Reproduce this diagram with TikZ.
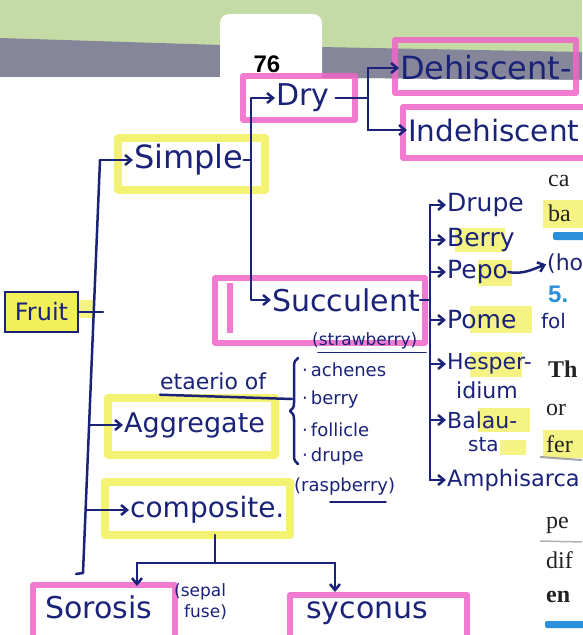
\documentclass[tikz,border=0pt]{standalone}
\usepackage{fontspec}
\setmainfont{DejaVu Sans}
\newfontfamily\printfont{Liberation Serif}
\newfontfamily\numfont{Liberation Sans}
\usetikzlibrary{arrows.meta,decorations.pathreplacing}
\definecolor{pen}{HTML}{1B2378}
\definecolor{pinkhl}{HTML}{F065C8}
\definecolor{yelhl}{HTML}{F2F05A}
\definecolor{greenbg}{HTML}{C4DBA6}
\definecolor{graybd}{HTML}{86869A}
\definecolor{bluebk}{HTML}{2A90DC}
\definecolor{inkblack}{HTML}{222222}
\newcommand\hwsz[1]{\fontsize{#1}{#1}\selectfont}
\begin{document}
\begin{tikzpicture}[x=1pt,y=-1pt,
  penline/.style={draw=pen, line width=2.5pt, line cap=round, line join=round},
  arr/.style={penline, -{Straight Barb[length=6pt,width=10pt]}, shorten >=1pt},
  hw/.style={text=pen, inner sep=0pt, anchor=west},
  prt/.style={text=inkblack, inner sep=0pt, anchor=west, font=\printfont\hwsz{24}},
  hlp/.style={draw=pinkhl, line width=5.5pt, opacity=0.85, line join=round},
  hly/.style={draw=yelhl, line width=8pt, opacity=0.85, line join=round},
  hlfill/.style={fill=yelhl, opacity=0.75}]
\useasboundingbox (0,0) rectangle (582,635);
% ---------- background ----------
\fill[white] (0,0) rectangle (582,635);
\fill[greenbg] (0,0) rectangle (582,80);
\fill[graybd] (0,38) -- (222,45) -- (222,77) -- (0,77) -- cycle;
\fill[graybd] (320,47) -- (582,52) -- (582,80) -- (320,78) -- cycle;
\fill[white] (0,77) -- (222,77) -- (320,78) -- (582,80) -- (582,635) -- (0,635) -- cycle;
\fill[white, rounded corners=9pt] (220,14) rectangle (322,90);
\node[font=\numfont\bfseries\hwsz{24}, text=black, inner sep=0pt] (pg) at (267,64) {76};
% ---------- highlighter marks ----------
\draw[hly] (118,138) rectangle (265,190);
\draw[hly] (108,398) rectangle (275,455);
\draw[hly] (105,482) rectangle (290,535);
\fill[hlfill] (78,300) rectangle (95,318);
\fill[hlfill] (455,228) rectangle (505,252);
\fill[hlfill] (478,260) rectangle (512,286);
\fill[hlfill] (470,306) rectangle (532,333);
\fill[hlfill] (470,352) rectangle (522,377);
\fill[hlfill] (478,408) rectangle (530,432);
\fill[hlfill] (500,440) rectangle (526,455);
\fill[hlfill] (543,200) rectangle (590,228);
\fill[hlfill] (543,430) rectangle (590,458);
\draw[hlp] (243,76) rectangle (355,120);
\draw[hlp] (395,40) rectangle (576,93);
\draw[hlp] (403,107) rectangle (595,158);
\draw[hlp] (215,278) rectangle (425,343);
\draw[hlp] (230,283) -- (230,333);
\draw[hlp] (33,585) rectangle (175,650);
\draw[hlp] (290,595) rectangle (467,650);
% ---------- printed book text at the right edge ----------
\node[prt] (ca) at (548,181) {ca};
\node[prt] (ba) at (548,213) {ba};
\fill[bluebk, rounded corners=2pt] (553,232) rectangle (590,240);
\node[prt, text=bluebk, font=\numfont\bfseries\hwsz{24}] (five) at (548,294) {5.};
\node[prt, font=\printfont\bfseries\hwsz{24}] (th) at (548,369) {Th};
\node[prt] (or) at (546,410) {or};
\node[prt] (fer) at (546,444) {fer};
\draw[gray!70, line width=2pt] (540,457) -- (582,460);
\node[prt] (pe) at (546,525) {pe};
\draw[gray!60, line width=1.5pt] (540,541) -- (582,542);
\node[prt] (dif) at (546,560) {dif};
\node[prt, font=\printfont\bfseries\hwsz{24}] (en) at (546,597) {en};
\fill[bluebk, rounded corners=2pt] (545,621) rectangle (590,628);
% ---------- handwritten nodes ----------
\node[draw=pen, line width=2.5pt, fill=yelhl, text=pen, inner sep=0pt,
      minimum width=73pt, minimum height=40pt, font=\hwsz{24}] (fruit) at (41.5,312) {Fruit};
\node[hw, font=\hwsz{32}] (simple) at (134,160) {Simple};
\node[hw, font=\hwsz{30}] (dry) at (276,98) {Dry};
\node[hw, font=\hwsz{32}] (dehisc) at (400,68) {Dehiscent-};
\node[hw, font=\hwsz{29.5}] (indeh) at (408,130) {Indehiscent};
\node[hw, font=\hwsz{30}] (succ) at (272,300) {Succulent};
\node[hw, font=\hwsz{17}] (straw) at (312,341) {(strawberry)};
\node[hw, font=\hwsz{25}] (drupe) at (447,205) {Drupe};
\node[hw, font=\hwsz{25}] (berry) at (447,240) {Berry};
\node[hw, font=\hwsz{25}] (pepo) at (447,272) {Pepo};
\node[hw, font=\hwsz{25}] (pome) at (447,320) {Pome};
\node[hw, font=\hwsz{22}] (hesper) at (447,364) {Hesper-};
\node[hw, font=\hwsz{22}] (idium) at (456,390) {idium};
\node[hw, font=\hwsz{22}] (balau) at (447,420) {Balau-};
\node[hw, font=\hwsz{20}] (sta) at (468,445) {sta};
\node[hw, font=\hwsz{22.5}] (amph) at (447,480) {Amphisarca};
\node[hw, font=\hwsz{22}] (ho) at (547,264) {(ho};
\node[hw, font=\hwsz{20}] (fol) at (541,321) {fol};
\node[hw, font=\hwsz{27}] (aggr) at (124,425) {Aggregate};
\node[hw, font=\hwsz{22}] (etaer) at (160,381) {etaerio of};
\node[hw, font=\hwsz{18}] (ach) at (302,370) {·\,achenes};
\node[hw, font=\hwsz{18}] (ber2) at (302,400) {·\,berry};
\node[hw, font=\hwsz{18}] (foll) at (302,430) {·\,follicle};
\node[hw, font=\hwsz{18}] (dru2) at (302,457) {·\,drupe};
\node[hw, font=\hwsz{18}] (rasp) at (294,487) {(raspberry)};
\node[hw, font=\hwsz{28}] (comp) at (130,510) {composite.};
\node[hw, font=\hwsz{30}] (soro) at (45,607) {Sorosis};
\node[hw, font=\hwsz{17}] (sep1) at (174,592) {(sepal};
\node[hw, font=\hwsz{17}] (sep2) at (184,612) {fuse)};
\node[hw, font=\hwsz{30}] (sycon) at (306,613) {syconus};
% ---------- connector coordinates ----------
\coordinate (ttop) at (100,160);
\coordinate (tfruit) at (94,312);
\coordinate (tagg) at (89,425);
\coordinate (tcomp) at (86,510);
\coordinate (tbot) at (83,573);
\coordinate (ttick) at (76,574);
\coordinate (sj) at (251,160);
\coordinate (dj) at (368,98);
\coordinate (rtop) at (430,205);
\coordinate (rbot) at (430,480);
\coordinate (cbot) at (215,535);
\coordinate (cj) at (215,563);
\coordinate (ch1) at (137,563);
\coordinate (ch2) at (335,563);
\coordinate (soroin) at (137,587);
\coordinate (syconin) at (335,593);
% ---------- connectors ----------
\draw[penline] (ttop) -- (tbot) -- (ttick);
\draw[arr] (ttop) -- (simple.west);
\draw[penline] (fruit.east) -- (tfruit) -- ++(9,0);
\draw[arr] (tagg) -- (aggr.west);
\draw[arr] (tcomp) -- (comp.west);
\draw[penline] (simple.east) -- (sj);
\draw[arr] (sj) |- (dry.west);
\draw[arr] (sj) |- (succ.west);
\draw[penline] (dry.east) ++(6,0) -- (dj);
\draw[penline] (dj |- dehisc.west) -- (dj |- indeh.west);
\draw[arr] (dj |- dehisc.west) -- (dehisc.west);
\draw[arr] (dj |- indeh.west) -- (indeh.west);
\draw[penline] (succ.east) -- (succ.east -| rtop);
\draw[penline] (rtop) -- (rbot);
\draw[arr] (rtop) -- (drupe.west);
\draw[arr] (berry.west -| rtop) -- (berry.west);
\draw[arr] (pepo.west -| rtop) -- (pepo.west);
\draw[arr] (pome.west -| rtop) -- (pome.west);
\draw[arr] (hesper.west -| rtop) -- (hesper.west);
\draw[arr] (balau.west -| rtop) -- (balau.west);
\draw[arr] (rbot) -- (amph.west);
\draw[arr] (pepo.east) to[out=-10,in=200] (ho.west);
\draw[penline] (etaer.south west) ++(0,5) -- (292,399);
\draw[penline, decorate, decoration={brace, amplitude=8pt}] (298,464) -- (298,358);
\draw[penline, line width=1.8pt] (straw.south west) ++(6,3) -- ++(108,0);
\draw[penline, line width=1.8pt] (330,502) -- (386,502);
\draw[penline] (cbot) -- (cj);
\draw[penline] (ch1) -- (ch2);
\draw[arr] (ch1) -- (soroin);
\draw[arr] (ch2) -- (syconin);
\end{tikzpicture}
\end{document}
